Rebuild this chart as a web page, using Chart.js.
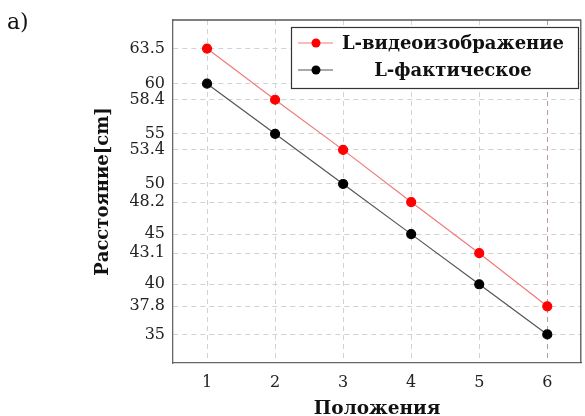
<!DOCTYPE html>
<html>
<head>
<meta charset="utf-8">
<script src="https://cdn.jsdelivr.net/npm/chart.js@4.4.1/dist/chart.umd.min.js"></script>
<style>
  html, body { margin: 0; padding: 0; background: #fff; overflow: hidden; width: 585px; height: 416px; }
  #wrap { position: absolute; left: 0; top: 0; width: 587px; height: 416px; }
  #lbl { position: absolute; left: 7px; top: 8px; font-family: "DejaVu Serif", serif; font-size: 22px; line-height: 28px; color: #111; }
</style>
</head>
<body>
<div id="wrap"><canvas id="c" width="587" height="416"></canvas></div>
<div id="lbl">a)</div>
<script>
const positions = [1, 2, 3, 4, 5, 6];
const videoValues = [63.5, 58.4, 53.4, 48.2, 43.1, 37.8];
const actualValues = [60, 55, 50, 45, 40, 35];
const yTickValues = [35, 37.8, 40, 43.1, 45, 48.2, 50, 53.4, 55, 58.4, 60, 63.5];
const xTickValues = [1, 2, 3, 4, 5, 6];
const seriesNames = ['L-видеоизображение', 'L-фактическое'];
const xTitle = 'Положения';
const yTitle = 'Расстояние[cm]';

const toPoints = (vals) => positions.map((p, i) => ({ x: p, y: vals[i] }));

const framePlugin = {
  id: 'frame',
  afterDatasetsDraw(chart) {
    const { ctx, chartArea: a } = chart;
    ctx.save();
    ctx.strokeStyle = '#555';
    ctx.lineWidth = 1.3;
    ctx.beginPath();
    ctx.moveTo(a.left, a.top);
    ctx.lineTo(a.right, a.top);
    ctx.moveTo(a.right - 0.5, a.top);
    ctx.lineTo(a.right - 0.5, a.bottom);
    ctx.stroke();
    ctx.restore();
  }
};

const legendPlugin = {
  id: 'boxLegend',
  afterDraw(chart) {
    const { ctx } = chart;
    const bx = 291, by = 27, bw = 287, bh = 61;
    ctx.save();
    ctx.fillStyle = '#fff';
    ctx.fillRect(bx, by, bw, bh);
    ctx.strokeStyle = '#333';
    ctx.lineWidth = 1.2;
    ctx.strokeRect(bx + 0.5, by + 0.5, bw, bh);
    const rows = [43, 70];
    chart.data.datasets.forEach((ds, i) => {
      const y = rows[i];
      ctx.strokeStyle = ds.borderColor;
      ctx.lineWidth = 1.2;
      ctx.beginPath();
      ctx.moveTo(298, y);
      ctx.lineTo(333, y);
      ctx.stroke();
      ctx.fillStyle = ds.pointBackgroundColor;
      ctx.beginPath();
      ctx.arc(316, y, 4.5, 0, Math.PI * 2);
      ctx.fill();
      ctx.fillStyle = '#111';
      ctx.font = 'bold 18px "DejaVu Serif"';
      ctx.textAlign = 'center';
      ctx.textBaseline = 'middle';
      ctx.fillText(ds.label, 453, y + 1);
    });
    ctx.restore();
  }
};

const gridColor = (c) => (c.tick && c.tick.value === 6) ? '#b59a9a' : '#d2d2d2';

new Chart(document.getElementById('c'), {
  type: 'line',
  data: {
    datasets: [
      {
        label: seriesNames[0],
        data: toPoints(videoValues),
        borderColor: '#f07a7a',
        backgroundColor: '#ff0000',
        pointBackgroundColor: '#ff0000',
        pointBorderColor: '#ff0000',
        pointRadius: 4.5,
        borderWidth: 1.2,
        tension: 0
      },
      {
        label: seriesNames[1],
        data: toPoints(actualValues),
        borderColor: '#555555',
        backgroundColor: '#000000',
        pointBackgroundColor: '#000000',
        pointBorderColor: '#000000',
        pointRadius: 4.5,
        borderWidth: 1.2,
        tension: 0
      }
    ]
  },
  options: {
    responsive: false,
    animation: false,
    layout: { padding: { left: 91, top: 20, right: 0, bottom: 0 } },
    plugins: { legend: { display: false }, tooltip: { enabled: false } },
    scales: {
      x: {
        type: 'linear',
        min: 0.5,
        max: 6.5,
        afterBuildTicks: (s) => { s.ticks = xTickValues.map(v => ({ value: v })); },
        afterFit: (s) => { s.height = 53; },
        grid: { color: gridColor, drawTicks: false, lineWidth: 1 },
        border: { display: true, color: '#666', width: 1.3, dash: [5, 4] },
        ticks: { padding: 10, color: '#222', font: { family: 'DejaVu Serif', size: 16 }, callback: (v) => String(v) },
        title: { display: true, text: xTitle, color: '#111', font: { family: 'DejaVu Serif', size: 18.5, weight: 'bold', lineHeight: 0.75 }, padding: { top: 0, bottom: 0 } }
      },
      y: {
        type: 'linear',
        min: 32.15,
        max: 66.35,
        afterBuildTicks: (s) => { s.ticks = yTickValues.map(v => ({ value: v })); },
        afterFit: (s) => { s.width = 82; },
        grid: { color: '#d2d2d2', drawTicks: false, lineWidth: 1 },
        border: { display: true, color: '#666', width: 1.3, dash: [5, 4] },
        ticks: { padding: 8, color: '#222', font: { family: 'DejaVu Serif', size: 16 }, callback: (v) => String(v) },
        title: { display: true, text: yTitle, color: '#111', font: { family: 'DejaVu Serif', size: 18, weight: 'bold', lineHeight: 1 }, padding: { top: 3, bottom: 0 } }
      }
    }
  },
  plugins: [framePlugin, legendPlugin]
});
</script>
</body>
</html>
